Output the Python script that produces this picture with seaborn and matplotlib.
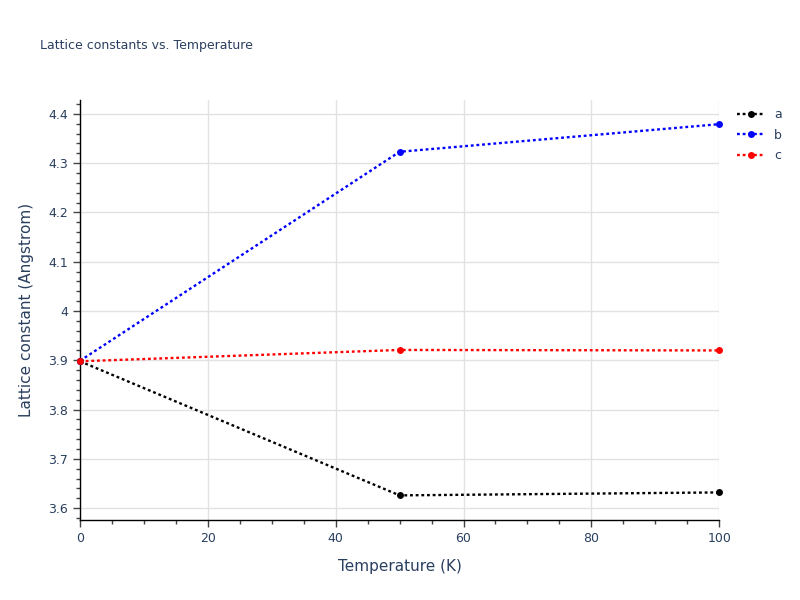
import pandas as pd
import numpy as np
import matplotlib.pyplot as plt
import matplotlib.ticker as mticker
import seaborn as sns

sns.set_style("white")
plt.rcParams['font.family'] = ['DejaVu Sans']

temperature = [0, 50, 100]
lattice_a = [3.898, 3.626, 3.632]
lattice_b = [3.899, 4.323, 4.379]
lattice_c = [3.898, 3.921, 3.920]
series_names = ['a', 'b', 'c']
colors = {'a': '#000000', 'b': '#0000ff', 'c': '#ff0000'}

df = pd.DataFrame({
    'Temperature': temperature * 3,
    'value': lattice_a + lattice_b + lattice_c,
    'series': [s for s in series_names for _ in temperature],
})

TEXT = '#2a3f5f'

fig = plt.figure(figsize=(8, 6), dpi=100)
ax = fig.add_axes([0.1, 0.1333, 0.799, 0.70])

for name in series_names:
    sub = df[df['series'] == name]
    sns.lineplot(data=sub, x='Temperature', y='value', ax=ax, color=colors[name],
                 linewidth=1.7, dashes=(1.2, 1.2), marker='o', markersize=5,
                 markeredgewidth=0, label=name, clip_on=False, zorder=3)

ax.set_xlim(0, 100)
ax.set_ylim(3.576, 4.428)
ax.xaxis.set_major_locator(mticker.MultipleLocator(20))
ax.xaxis.set_minor_locator(mticker.MultipleLocator(5))
ax.yaxis.set_major_locator(mticker.MultipleLocator(0.1))
ax.yaxis.set_minor_locator(mticker.MultipleLocator(0.02))
ax.yaxis.set_major_formatter(mticker.FuncFormatter(lambda v, p: f'{v:g}' if abs(v - 4) > 1e-6 else '4'))

ax.grid(True, which='major', color='#e2e2e2', linewidth=1)
ax.spines[['top', 'right']].set_visible(False)
for s in ['left', 'bottom']:
    ax.spines[s].set_color('#000000')
    ax.spines[s].set_linewidth(1)
ax.tick_params(which='major', direction='out', length=5, width=1, color='#444444',
               labelsize=9, labelcolor=TEXT, left=True, bottom=True)
ax.tick_params(which='minor', direction='out', length=3, width=1, color='#444444',
               left=True, bottom=True)

ax.set_xlabel('Temperature (K)', fontsize=11, color=TEXT, labelpad=10)
ax.set_ylabel('Lattice constant (Angstrom)', fontsize=11, color=TEXT, labelpad=10)

fig.text(0.05, 0.918, 'Lattice constants vs. Temperature', fontsize=9, color=TEXT)

leg = ax.legend(loc='upper left', bbox_to_anchor=(1.01, 1.008), frameon=False,
                fontsize=9, handlelength=2.2, labelspacing=0.62)
for t in leg.get_texts():
    t.set_color(TEXT)

plt.savefig('out.png', dpi=100)
plt.close()
